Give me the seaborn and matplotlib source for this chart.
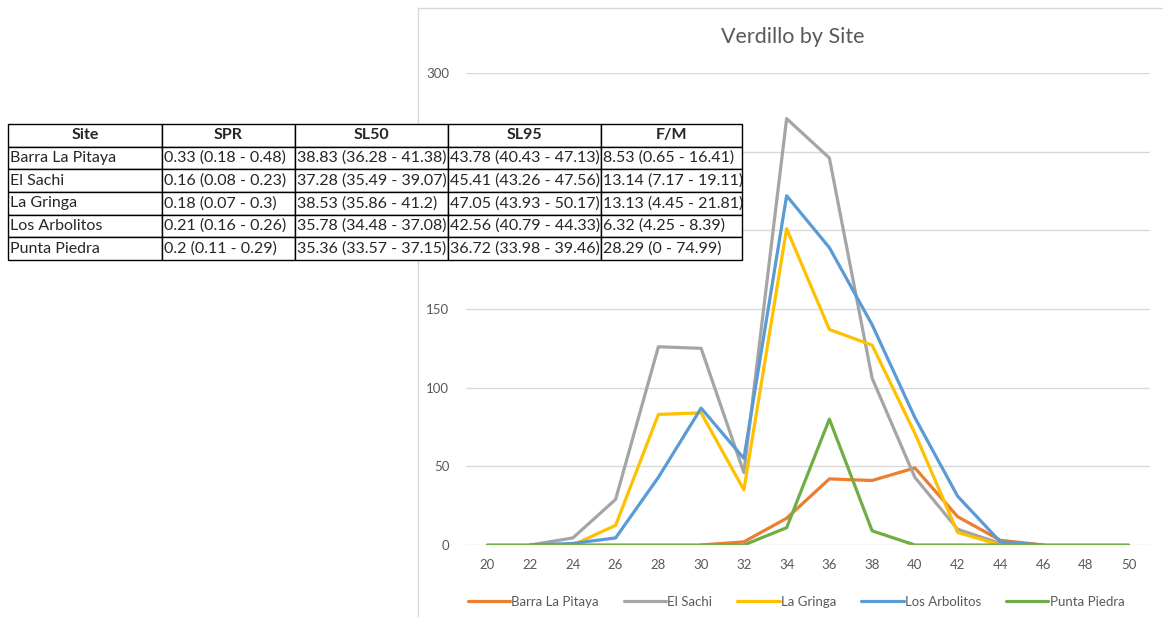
import numpy as np
import pandas as pd
import matplotlib
matplotlib.use('Agg')
import matplotlib.pyplot as plt
import seaborn as sns
from matplotlib.lines import Line2D

# --- data ---
lengths = [20, 22, 24, 26, 28, 30, 32, 34, 36, 38, 40, 42, 44, 46, 48, 50]
nan = np.nan
barra_la_pitaya = [nan, nan, nan, nan, nan, 0, 2, 17, 42, 41, 49, 18, 3, 0, nan, nan]
el_sachi = [nan, 0, 4.5, 29, 126, 125, 46, 271, 246, 106, 43, 10, 1, 0, nan, nan]
la_gringa = [nan, nan, 0, 12.5, 83, 84, 35, 201, 137, 127, 71, 8, 0, nan, nan, nan]
los_arbolitos = [nan, 0, 1, 4.5, 43, 87, 55, 222, 189, 140, 81, 31, 2, 0, nan, nan]
punta_piedra = [0, 0, 0, 0, 0, 0, 0, 11, 80, 9, 0, 0, 0, 0, 0, 0]

sites = ['Barra La Pitaya', 'El Sachi', 'La Gringa', 'Los Arbolitos', 'Punta Piedra']
colors = ['#ED7D31', '#A5A5A5', '#FFC000', '#5B9BD5', '#70AD47']

table_header = ['Site', 'SPR', 'SL50', 'SL95', 'F/M']
table_rows = [
    ['Barra La Pitaya', '0.33 (0.18 - 0.48)', '38.83 (36.28 - 41.38)', '43.78 (40.43 - 47.13)', '8.53 (0.65 - 16.41)'],
    ['El Sachi', '0.16 (0.08 - 0.23)', '37.28 (35.49 - 39.07)', '45.41 (43.26 - 47.56)', '13.14 (7.17 - 19.11)'],
    ['La Gringa', '0.18 (0.07 - 0.3)', '38.53 (35.86 - 41.2)', '47.05 (43.93 - 50.17)', '13.13 (4.45 - 21.81)'],
    ['Los Arbolitos', '0.21 (0.16 - 0.26)', '35.78 (34.48 - 37.08)', '42.56 (40.79 - 44.33)', '6.32 (4.25 - 8.39)'],
    ['Punta Piedra', '0.2 (0.11 - 0.29)', '35.36 (33.57 - 37.15)', '36.72 (33.98 - 39.46)', '28.29 (0 - 74.99)'],
]

df = pd.DataFrame({
    'Length': lengths,
    'Barra La Pitaya': barra_la_pitaya,
    'El Sachi': el_sachi,
    'La Gringa': la_gringa,
    'Los Arbolitos': los_arbolitos,
    'Punta Piedra': punta_piedra,
})
long_df = df.melt(id_vars='Length', var_name='Site', value_name='Count').dropna()

sns.set_style('white')
plt.rcParams['font.family'] = ['Lato', 'DejaVu Sans']

W, H = 1163, 617
fig = plt.figure(figsize=(W / 100, H / 100), dpi=100)

# chart area border (Excel chart frame)
fig.add_artist(Line2D([418 / W, 418 / W], [0, 1 - 8 / H], color='#D9D9D9', lw=1))
fig.add_artist(Line2D([418 / W, 1], [1 - 8 / H, 1 - 8 / H], color='#D9D9D9', lw=1))

ax = fig.add_axes([466 / W, 72 / H, (1150 - 466) / W, (545 - 73) / H])
sns.lineplot(data=long_df, x='Length', y='Count', hue='Site', hue_order=sites,
             palette=colors, linewidth=2.3, sort=False, legend=False, ax=ax)

ax.set_xlim(19, 51)
ax.set_ylim(0, 300)
ax.set_xticks(lengths)
ax.set_yticks(range(0, 301, 50))
ax.set_xlabel('')
ax.set_ylabel('')
ax.grid(axis='y', color='#D9D9D9', lw=1)
ax.set_axisbelow(True)
for s in ax.spines.values():
    s.set_visible(False)
ax.tick_params(axis='both', length=0, labelsize=9.5, colors='#595959', pad=10)
ax.tick_params(axis='y', pad=12)

fig.text(793 / W, 1 - 37 / H, 'Verdillo by Site', ha='center', va='center',
         fontsize=15.5, color='#595959')

handles = [Line2D([], [], color=c, lw=2.3) for c in colors]
fig.legend(handles, sites, loc='center', bbox_to_anchor=(796 / W, 1 - 602 / H),
           ncol=5, frameon=False, fontsize=9.5, handlelength=3.2,
           handletextpad=0.1, columnspacing=1.9, labelcolor='#595959')

# summary table overlapping the chart
tax = fig.add_axes([8 / W, 1 - 260 / H, 734 / W, 136 / H])
tax.set_zorder(5)
tax.axis('off')
col_w = np.array([154, 133, 153, 153, 141]) / 734
tbl = tax.table(cellText=table_rows, colLabels=table_header, colWidths=col_w,
                cellLoc='left', loc='center', bbox=[0, 0, 1, 1])
tbl.auto_set_font_size(False)
tbl.set_fontsize(11.5)
for (r, c), cell in tbl.get_celld().items():
    cell.set_edgecolor('black')
    cell.set_linewidth(1)
    cell.set_facecolor('white')
    cell.PAD = 0.015
    if r == 0:
        cell.get_text().set_fontweight('bold')
        cell.get_text().set_ha('center')
        cell._loc = 'center'

fig.savefig('out.png', dpi=100)
